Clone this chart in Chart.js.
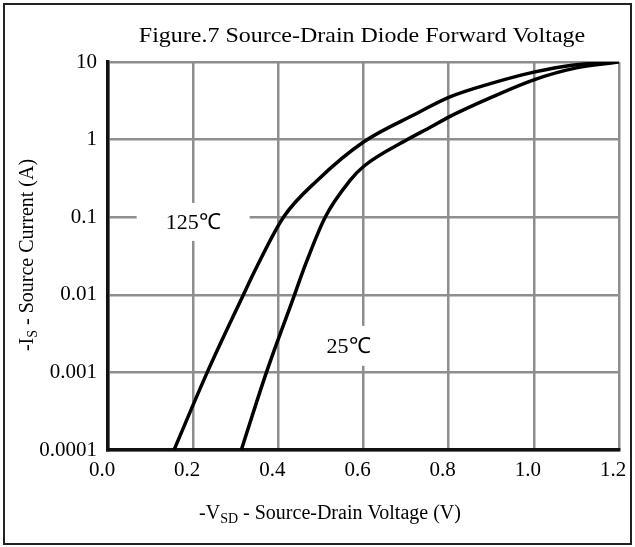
<!DOCTYPE html>
<html>
<head>
<meta charset="utf-8">
<script src="https://cdn.jsdelivr.net/npm/chart.js@4.4.1/dist/chart.umd.min.js"></script>
<style>
  html, body { margin: 0; padding: 0; background: #fff; }
  #wrap { width: 635px; height: 547px; }
</style>
</head>
<body>
<div id="wrap"><canvas id="c" width="635" height="547"></canvas></div>
<script>
// data
const vTicks = [0.0, 0.2, 0.4, 0.6, 0.8, 1.0, 1.2];
const iTicks = [10, 1, 0.1, 0.01, 0.001, 0.0001];

const v125 = [0.155, 0.233, 0.318, 0.346, 0.412, 0.492, 0.6, 0.727, 0.8, 0.9, 1.0, 1.09, 1.19];
const i125 = [0.0001, 0.001, 0.01, 0.021, 0.1, 0.30, 0.93, 2.2, 3.5, 5.3, 7.4, 9.1, 10];

const v25 = [0.313, 0.372, 0.438, 0.459, 0.51, 0.569, 0.6, 0.703, 0.758, 0.8, 0.9, 1.0, 1.1, 1.2];
const i25 = [0.0001, 0.001, 0.01, 0.021, 0.1, 0.30, 0.45, 1.0, 1.45, 1.95, 3.5, 5.9, 8.4, 10];

const serif = '"Liberation Serif", "Times New Roman", serif';

function pts(xs, ys) {
    return xs.map((x, k) => ({ x: x, y: ys[k] }));
}

// outer frame, title, axis titles with subscripts, curve labels
const decor = {
    id: 'decor',
    beforeDatasetsDraw(chart) {
        const ctx = chart.ctx;
        const xs = chart.scales.x, ys = chart.scales.y;
        const tags = [
            { text: '125\u2103', v: 0.2, i: 0.087, w: 113, h: 38 },
            { text: '25\u2103', v: 0.565, i: 0.0022, w: 95, h: 40 }
        ];
        ctx.save();
        tags.forEach(t => {
            const px = xs.getPixelForValue(t.v), py = ys.getPixelForValue(t.i);
            ctx.fillStyle = '#fff';
            ctx.fillRect(px - t.w / 2, py - t.h / 2, t.w, t.h);
            ctx.fillStyle = '#000';
            ctx.font = '22px ' + serif;
            ctx.textAlign = 'center';
            ctx.textBaseline = 'middle';
            ctx.fillText(t.text, px, py + 1);
        });
        ctx.restore();
    },
    afterDraw(chart) {
        const ctx = chart.ctx;
        ctx.save();
        ctx.strokeStyle = '#222';
        ctx.lineWidth = 2;
        ctx.strokeRect(4, 4, 627, 540);

        ctx.fillStyle = '#000';
        ctx.textBaseline = 'alphabetic';
        ctx.textAlign = 'center';
        ctx.font = '22px ' + serif;
        ctx.save();
        ctx.translate(362, 42);
        ctx.scale(1.09, 1);
        ctx.fillText('Figure.7 Source-Drain Diode Forward Voltage', 0, 0);
        ctx.restore();

        // x title
        drawSub(ctx, [['-V', 20], ['SD', 14, 4], [' - Source-Drain Voltage (V)', 20]], 330, 519, 0);
        // y title
        drawSub(ctx, [['-I', 20], ['S', 14, 4], [' - Source Current (A)', 20]], 33, 255, -Math.PI / 2);
        ctx.restore();
    }
};

function drawSub(ctx, parts, cx, cy, rot) {
    let total = 0;
    parts.forEach(p => { ctx.font = p[1] + 'px ' + serif; total += ctx.measureText(p[0]).width; });
    ctx.save();
    ctx.translate(cx, cy);
    ctx.rotate(rot);
    ctx.textAlign = 'left';
    let x = -total / 2;
    parts.forEach(p => {
        ctx.font = p[1] + 'px ' + serif;
        ctx.fillText(p[0], x, p[2] || 0);
        x += ctx.measureText(p[0]).width;
    });
    ctx.restore();
}

const ctx = document.getElementById('c').getContext('2d');
new Chart(ctx, {
    type: 'scatter',
    data: {
        datasets: [
            { label: '125\u2103', data: pts(v125, i125) },
            { label: '25\u2103', data: pts(v25, i25) }
        ].map(d => Object.assign(d, {
            showLine: true,
            borderColor: '#000',
            borderWidth: 3.5,
            pointRadius: 0,
            cubicInterpolationMode: 'monotone',
            fill: false
        }))
    },
    options: {
        responsive: false,
        animation: false,
        layout: { padding: { top: 62, right: 16, left: 0, bottom: 0 } },
        plugins: { legend: { display: false }, tooltip: { enabled: false }, title: { display: false } },
        scales: {
            x: {
                type: 'linear',
                min: 0, max: 1.2,
                afterBuildTicks: s => { s.ticks = vTicks.map(v => ({ value: v })); },
                afterFit: s => { s.height = 97; s.paddingLeft = 0; s.paddingRight = 0; },
                ticks: {
                    color: '#000', padding: 8, labelOffset: -6,
                    font: { family: serif, size: 21 },
                    callback: v => Number(v).toFixed(1)
                },
                grid: { color: '#8e8e8e', lineWidth: 2.5, drawTicks: false },
                border: { color: '#111', width: 3.5 }
            },
            y: {
                type: 'logarithmic',
                min: 0.0001, max: 10,
                afterBuildTicks: s => { s.ticks = iTicks.map(v => ({ value: v })); },
                afterFit: s => { s.width = 108; s.paddingTop = 0; s.paddingBottom = 0; },
                ticks: {
                    color: '#000', padding: 11,
                    font: { family: serif, size: 21 },
                    callback: v => String(v)
                },
                grid: { color: '#8e8e8e', lineWidth: 2.5, drawTicks: false },
                border: { color: '#111', width: 3.5 }
            }
        }
    },
    plugins: [decor]
});
</script>
</body>
</html>
